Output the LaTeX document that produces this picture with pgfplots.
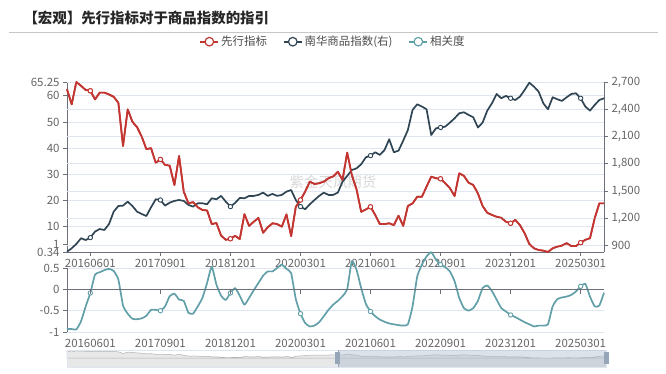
\documentclass[border=0pt]{standalone}
\usepackage{fontspec}
\setmainfont{Noto Sans CJK SC}
\usepackage{pgfplots}
\pgfplotsset{compat=1.18}
\usepackage{pgfplotstable}

\definecolor{cred}{HTML}{C23531}
\definecolor{cdark}{HTML}{2F4554}
\definecolor{cteal}{HTML}{61A0A8}
\definecolor{gridc}{HTML}{E0E6F1}
\definecolor{axc}{HTML}{6E7079}
\definecolor{tickc}{HTML}{666666}
\definecolor{slidefill}{HTML}{A7B7CC}

\pgfplotstableread{
i red dark teal
0 62.5 833 -0.93
1 56.7 871 -0.93
2 65.25 918 -0.94
3 63.8 981 -0.75
4 62.2 962 -0.40
5 61.9 988 -0.085
6 58.6 1054 0.345
7 61.2 1083 0.40
8 61.2 1072 0.45
9 60.5 1138 0.48
10 59.6 1274 0.43
11 57.3 1336 0.23
12 40.8 1340 -0.38
13 54.8 1384 -0.57
14 50.1 1336 -0.69
15 48.0 1274 -0.70
16 44.4 1248 -0.68
17 39.6 1226 -0.62
18 40.0 1322 -0.48
19 34.4 1410 -0.48
20 35.7 1402 -0.50
21 33.6 1340 -0.40
22 33.3 1373 -0.16
23 25.9 1392 -0.10
24 37.0 1402 -0.24
25 23.4 1392 -0.27
26 18.9 1348 -0.55
27 19.4 1329 -0.57
28 17.4 1366 -0.40
29 16.4 1366 -0.20
30 16.2 1355 0.15
31 11.0 1421 0.53
32 11.4 1410 0.11
33 6.6 1447 -0.15
34 5.0 1384 -0.25
35 5.4 1329 -0.085
36 6.5 1370 0.03
37 5.3 1425 -0.15
38 14.8 1421 -0.36
39 10.3 1447 -0.20
40 11.9 1447 -0.02
41 13.4 1458 0.15
42 7.7 1483 0.32
43 9.8 1447 0.42
44 11.3 1469 0.42
45 11.0 1447 0.50
46 10.0 1458 0.58
47 14.7 1494 0.48
48 6.4 1512 0.38
49 17.6 1402 -0.23
50 20.2 1329 -0.57
51 23.4 1300 -0.79
52 27.2 1355 -0.87
53 26.3 1402 -0.85
54 26.6 1447 -0.77
55 27.2 1483 -0.63
56 28.5 1458 -0.48
57 29.2 1458 -0.36
58 31.0 1483 -0.27
59 27.8 1603 -0.16
60 38.3 1666 0.0
61 29.7 1732 0.66
62 24.3 1750 0.46
63 15.7 1795 0.03
64 16.6 1872 -0.34
65 17.6 1890 -0.52
66 14.5 1927 -0.63
67 11.0 1898 -0.71
68 11.0 1952 -0.76
69 11.3 2070 -0.80
70 10.6 1927 -0.82
71 14.2 1945 -0.84
72 10.3 2055 -0.85
73 17.9 2172 -0.82
74 18.9 2392 -0.40
75 21.4 2455 0.30
76 21.4 2430 0.58
77 25.3 2400 0.77
78 29.1 2117 0.87
79 28.5 2190 0.70
80 28.3 2200 0.58
81 26.6 2209 0.52
82 24.7 2253 0.42
83 21.7 2301 0.19
84 30.4 2356 -0.20
85 29.4 2367 -0.44
86 26.8 2338 -0.50
87 25.9 2312 -0.44
88 22.7 2199 -0.27
89 17.9 2253 0.03
90 15.3 2385 0.09
91 14.5 2466 -0.04
92 13.8 2568 -0.24
93 13.4 2521 -0.44
94 11.9 2547 -0.52
95 11.3 2521 -0.60
96 12.6 2502 -0.65
97 10.6 2539 -0.71
98 7.5 2612 -0.77
99 3.4 2692 -0.82
100 1.75 2649 -0.87
101 1.1 2594 -0.85
102 0.85 2466 -0.85
103 0.34 2400 -0.82
104 1.75 2532 -0.40
105 2.4 2510 -0.23
106 2.8 2492 -0.19
107 3.7 2532 -0.17
108 2.6 2568 -0.13
109 2.6 2576 -0.05
110 3.9 2521 0.07
111 5.0 2430 0.13
112 5.6 2385 -0.17
113 13.2 2447 -0.40
114 18.9 2502 -0.38
115 18.9 2521 -0.08
}\data

\pgfplotsset{
  base/.style={
    anchor=south west, scale only axis, width=537bp,
    xmin=0, xmax=115,
    axis line style={-, axc, line width=0.8pt},
    tick align=outside, major tick length=4bp,
    tick style={axc, line width=0.8pt},
    tick label style={font=\fontsize{11.5}{12}\selectfont, text=tickc},
    grid style={gridc, line width=0.8pt},
  },
  echline/.style={line width=1.7pt, line join=round, mark=*, mark phase=6, mark repeat=15,
    mark size=2.2bp, mark options={fill=white, solid, line width=0.9pt}},
  legend image code/.code={
    \draw[#1, mark=none] (0bp,0bp) -- (18bp,0bp);
    \draw[#1, mark=none, fill=white, line width=1.2pt] (9bp,0bp) circle (4.3bp);
  },
}
\def\dates{20160601,20170901,20181201,20200301,20210601,20220901,20231201,20250301}

\begin{document}
\begin{tikzpicture}
\fill[white] (0,0) rectangle (666bp,374bp);
\node[anchor=west, font=\fontsize{14.5}{16}\selectfont\bfseries, text=black!85] at (20bp,355.7bp) {【宏观】先行指标对于商品指数的指引};
\draw[black!22, line width=1.2pt] (9bp,341.7bp) -- (658bp,341.7bp);
\node[font=\fontsize{14.5}{16}\selectfont, text=black!15] at (333bp,192bp) {紫金天风期货};

% top panel, left axis
\begin{axis}[base, at={(67bp,122bp)}, height=170bp,
  ymin=0.34, ymax=65.25,
  axis x line*=bottom, axis y line*=left,
  xtick={5,20,...,110}, xticklabels/.expanded={\dates},
  ytick={0.34,10,20,30,40,50,60,65.25},
  yticklabels={0.34,10,20,30,40,50,60,65.25},
  extra y ticks={3.2}, extra y tick labels={1},
  extra y tick style={grid=none},
  ymajorgrids, clip=false,
  legend columns=3, legend cell align=left,
  legend style={at={(0.4953,1.237)}, anchor=center, draw=none, fill=none,
    font=\fontsize{11.5}{12}\selectfont, text=black!70,
    /tikz/every even column/.append style={column sep=14bp}},
]
\addplot[cred, echline] table[x=i,y=red]{\data};
\addlegendentry{先行指标}
\addlegendimage{cdark, line width=1.6pt}
\addlegendentry{南华商品指数(右)}
\addlegendimage{cteal, line width=1.6pt}
\addlegendentry{相关度}
\end{axis}

% top panel, right axis
\begin{axis}[base, at={(67bp,122bp)}, height=170bp,
  ymin=830, ymax=2700,
  axis x line=none, axis y line*=right,
  ytick={900,1200,...,2700},
  yticklabels={900,{1,200},{1,500},{1,800},{2,100},{2,400},{2,700}},
  ymajorgrids, clip=false,
]
\addplot[cdark, echline] table[x=i,y=dark]{\data};
\end{axis}
% redraw red on top
\begin{axis}[base, at={(67bp,122bp)}, height=170bp,
  ymin=0.34, ymax=65.25, hide axis, clip=false]
\addplot[cred, echline] table[x=i,y=red]{\data};
\end{axis}

% lower panel
\begin{axis}[base, at={(67bp,42bp)}, height=64bp,
  ymin=-1, ymax=0.5,
  axis x line*=bottom, axis y line*=left,
  x axis line style={draw=none}, major x tick style={draw=none},
  xtick={5,20,...,110}, xticklabels/.expanded={\dates},
  ytick={-1,-0.5,0.5}, yticklabels={-1,-0.5,0.5},
  extra y ticks={0}, extra y tick labels={0},
  extra y tick style={grid style={axc, line width=0.8pt}},
  ymajorgrids, clip=false,
]
\addplot[cteal, echline, smooth, tension=0.3] table[x=i,y=teal]{\data};
\end{axis}
% zero axis line with ticks
\begin{axis}[base, at={(67bp,84.3bp)}, height=21.3bp,
  ymin=0, ymax=0.5,
  axis x line*=bottom, axis y line=none,
  xtick={5,20,...,110}, xticklabels={},
]
\addplot[draw=none] table[x=i,y=teal]{\data};
\end{axis}

% slider
\begin{axis}[anchor=south west, at={(67bp,7bp)}, scale only axis, width=539bp, height=17bp,
  xmin=0, xmax=115, ymin=-81, ymax=74, hide axis, clip=false]
\fill[black!9] (axis cs:0,-81) rectangle (axis cs:115,0);
\addplot[black!30, fill=black!9, line width=0.5pt] table[x=i,y=red]{\data} \closedcycle;
\draw[gridc, line width=0.8pt] (axis cs:0,-81) rectangle (axis cs:115,74);
\fill[slidefill, opacity=0.4] (axis cs:57.8,-81) rectangle (axis cs:115,74);
\draw[slidefill!90!black, line width=0.8pt] (axis cs:57.8,-81) -- (axis cs:57.8,74);
\fill[slidefill!90!black] ([xshift=-2.5bp,yshift=-6bp]axis cs:57.8,0) rectangle ([xshift=2.5bp,yshift=6bp]axis cs:57.8,0);
\fill[slidefill!90!black] ([xshift=-2.5bp,yshift=-6bp]axis cs:115,0) rectangle ([xshift=2.5bp,yshift=6bp]axis cs:115,0);
\end{axis}
\end{tikzpicture}
\end{document}
